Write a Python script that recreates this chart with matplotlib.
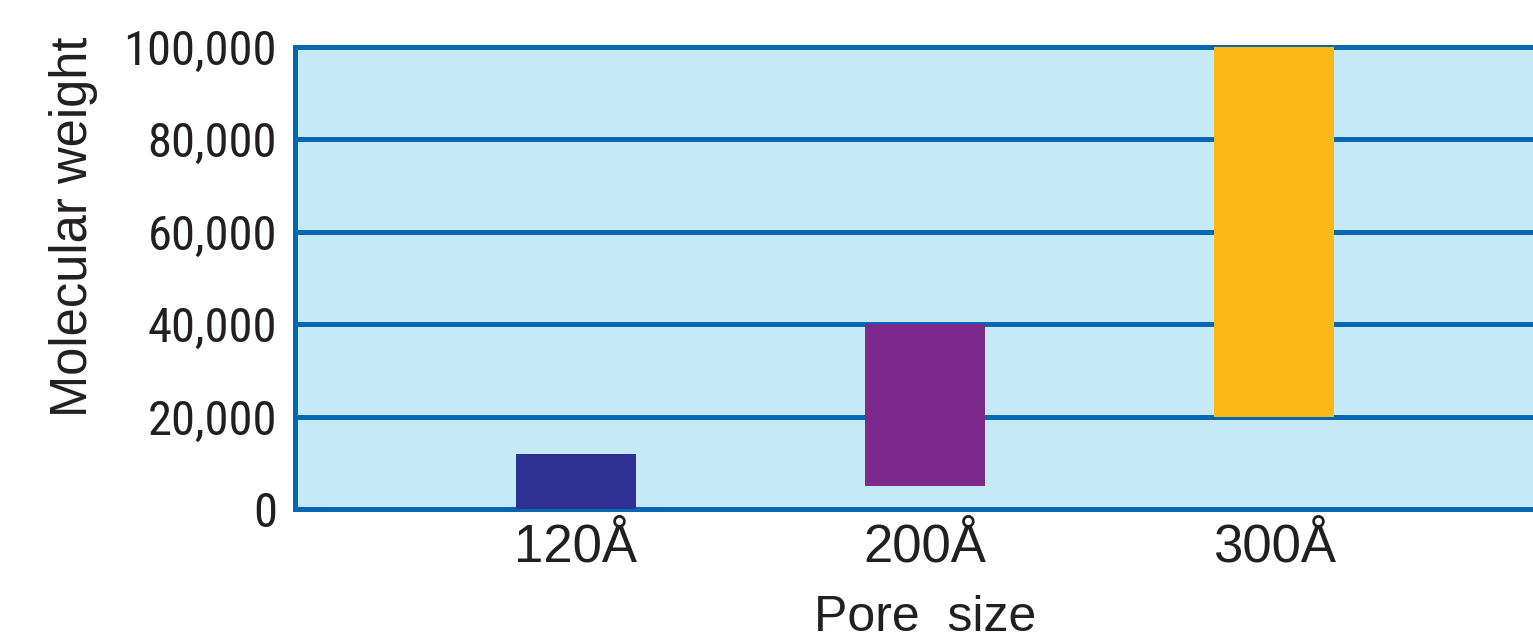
import matplotlib
matplotlib.use("Agg")
import matplotlib.pyplot as plt
from matplotlib import font_manager

categories = ["120Å", "200Å", "300Å"]
mw_low = [0, 5000, 20000]
mw_high = [12000, 40000, 100000]
bar_colors = ["#2e3192", "#7d2a8c", "#fbb817"]
yticks = [0, 20000, 40000, 60000, 80000, 100000]
ytick_labels = ["0", "20,000", "40,000", "60,000", "80,000", "100,000"]

names = {f.name for f in font_manager.fontManager.ttflist}
narrow = "Liberation Sans"
for cand in ["Nimbus Sans Narrow", "Liberation Sans Narrow", "Arial Narrow",
             "Roboto Condensed", "Archivo Narrow", "Asap Condensed"]:
    if cand in names:
        narrow = cand
        break

W, H, DPI = 1533, 644, 100
fig = plt.figure(figsize=(W / DPI, H / DPI), dpi=DPI)
ax = fig.add_axes([295 / W, 1 - 509 / H, 1 - 295 / W, (509 - 47) / H])

blue = "#0067b1"
ink = "#231f20"
ax.set_facecolor("#c6e9f8")
x = list(range(1, len(categories) + 1))
heights = [h - l for l, h in zip(mw_low, mw_high)]
ax.bar(x, heights, bottom=mw_low, width=0.344, color=bar_colors, zorder=3)

ax.set_xlim(0.195, 3.742)
ax.set_ylim(0, 100000)
ax.set_yticks(yticks)
ax.set_yticklabels(ytick_labels, fontfamily=narrow, fontsize=35)
ax.set_xticks(x)
ax.set_xticklabels(categories, fontfamily="Liberation Sans", fontsize=38)
ax.tick_params(axis="both", length=0, colors=ink)
ax.tick_params(axis="y", pad=13)
ax.tick_params(axis="x", pad=10)

ax.set_axisbelow(True)
ax.grid(axis="y", color=blue, linewidth=3.6)
for s in ["left", "bottom", "top"]:
    ax.spines[s].set_color(blue)
    ax.spines[s].set_linewidth(3.6)
ax.spines["right"].set_visible(False)

ax.set_xlabel("Pore  size", fontfamily="Liberation Sans", fontsize=36, color=ink)
ax.xaxis.set_label_coords((925 - 295) / (W - 295), -(618 - 509) / 462)
ax.xaxis.label.set_va("center")
ax.set_ylabel("Molecular weight", fontfamily="Liberation Sans", fontsize=36.5, color=ink)
ax.yaxis.set_label_coords((74 - 295) / (W - 295), (509 - 227) / 462)
ax.yaxis.label.set_va("center")

fig.savefig("out.png", dpi=DPI)
